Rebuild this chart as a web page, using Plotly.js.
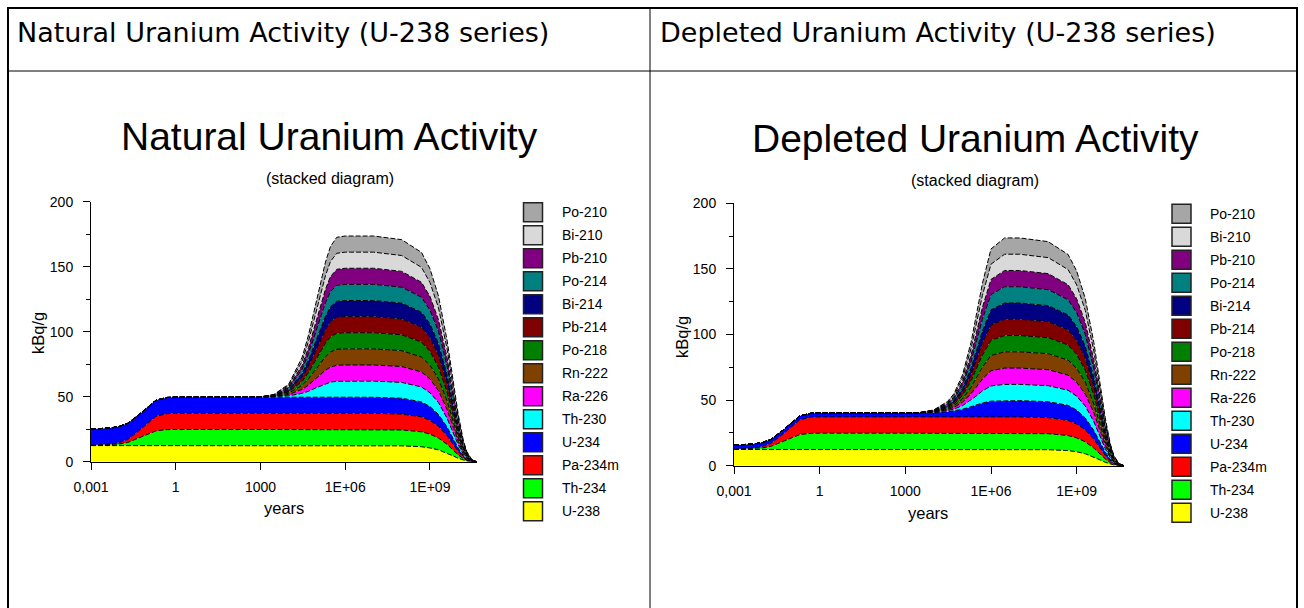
<!DOCTYPE html>
<html><head><meta charset="utf-8">
<script src="https://cdn.plot.ly/plotly-3.0.1.min.js"></script>
<style>html,body{margin:0;padding:0;background:#fff;overflow:hidden}#chart{width:1304px;height:608px}</style>
</head><body><div id="chart"></div>
<script>
// ---------------- data ----------------
const years = [0.001, 0.005, 0.01, 0.02, 0.05, 0.1, 0.2, 0.5, 1, 1000, 3000, 1e4, 3e4, 5e4, 1e5, 2e5, 3e5, 5e5, 1e6, 3e6, 1e7, 1e8, 5e8, 1e9, 2e9, 4e9, 7e9, 1e10, 1.5e10, 2e10, 3e10, 4.47e10];

const xTickVals = [0.001, 1, 1000, 1e6, 1e9];
const xTickText = ["0,001", "1", "1000", "1E+06", "1E+09"];
const yTickVals = [0, 50, 100, 150, 200];
const yMinorVals = [25, 75, 125, 175];

// shared by both charts (kBq/g)
const u238   = [12.4,12.4,12.4,12.4,12.4,12.4,12.4,12.4,12.4,12.4, 12.4,12.4,12.4,12.4,12.4,12.4,12.4,12.4,12.4,12.4, 12.4, 12.2,11.5,10.6,9.1,6.7,4.2,2.6,1.2,0.56,0.12,0.01];
const th234  = [0.13,0.63,1.2,2.4,5.8,8.6,11.3,12.3,12.4,12.4, 12.4,12.4,12.4,12.4,12.4,12.4,12.4,12.4,12.4,12.4, 12.4, 12.2,11.5,10.6,9.1,6.7,4.2,2.6,1.2,0.56,0.12,0.01];
const pa234m = [0.1,0.55,1.1,2.3,5.6,8.5,11.2,12.3,12.4,12.4, 12.4,12.4,12.4,12.4,12.4,12.4,12.4,12.4,12.4,12.4, 12.4, 12.2,11.5,10.6,9.1,6.7,4.2,2.6,1.2,0.56,0.12,0.01];

// natural uranium
const natU234  = [12.4,12.4,12.4,12.4,12.4,12.4,12.4,12.4,12.4,12.4, 12.4,12.4,12.4,12.4,12.4,12.4,12.4,12.4,12.4,12.4, 12.4, 12.2,11.5,10.6,9.1,6.7,4.2,2.6,1.2,0.56,0.12,0.01];
const natTh230 = [0,0,0,0,0,0,0,0,0,0.11, 0.34,1.1,3.0,4.6,7.5,10.4,11.6,12.3,12.4,12.4, 12.4, 12.2,11.5,10.6,9.1,6.7,4.2,2.6,1.2,0.56,0.12,0.01];
const natRa226 = [0,0,0,0,0,0,0,0,0,0.03, 0.2,1.0,3.1,4.8,7.6,10.4,11.6,12.3,12.4,12.4, 12.4, 12.2,11.5,10.6,9.1,6.7,4.2,2.6,1.2,0.56,0.12,0.01];
const natRn222 = [0,0,0,0,0,0,0,0,0,0.03, 0.2,1.0,3.1,4.8,7.6,10.4,11.6,12.3,12.4,12.4, 12.4, 12.2,11.5,10.6,9.1,6.7,4.2,2.6,1.2,0.56,0.12,0.01];
const natPo218 = [0,0,0,0,0,0,0,0,0,0.03, 0.2,1.0,3.1,4.8,7.6,10.4,11.6,12.3,12.4,12.4, 12.4, 12.2,11.5,10.6,9.1,6.7,4.2,2.6,1.2,0.56,0.12,0.01];
const natPb214 = [0,0,0,0,0,0,0,0,0,0.03, 0.2,1.0,3.1,4.8,7.6,10.4,11.6,12.3,12.4,12.4, 12.4, 12.2,11.5,10.6,9.1,6.7,4.2,2.6,1.2,0.56,0.12,0.01];
const natBi214 = [0,0,0,0,0,0,0,0,0,0.03, 0.2,1.0,3.1,4.8,7.6,10.4,11.6,12.3,12.4,12.4, 12.4, 12.2,11.5,10.6,9.1,6.7,4.2,2.6,1.2,0.56,0.12,0.01];
const natPo214 = [0,0,0,0,0,0,0,0,0,0.03, 0.2,1.0,3.1,4.8,7.6,10.4,11.6,12.3,12.4,12.4, 12.4, 12.2,11.5,10.6,9.1,6.7,4.2,2.6,1.2,0.56,0.12,0.01];
const natPb210 = [0,0,0,0,0,0,0,0,0,0.02, 0.19,0.98,3.1,4.8,7.6,10.4,11.6,12.3,12.4,12.4, 12.4, 12.2,11.5,10.6,9.1,6.7,4.2,2.6,1.2,0.56,0.12,0.01];
const natBi210 = [0,0,0,0,0,0,0,0,0,0.02, 0.19,0.98,3.1,4.8,7.6,10.4,11.6,12.3,12.4,12.4, 12.4, 12.2,11.5,10.6,9.1,6.7,4.2,2.6,1.2,0.56,0.12,0.01];
const natPo210 = [0,0,0,0,0,0,0,0,0,0.02, 0.19,0.98,3.1,4.8,7.6,10.4,11.6,12.3,12.4,12.4, 12.4, 12.2,11.5,10.6,9.1,6.7,4.2,2.6,1.2,0.56,0.12,0.01];

// depleted uranium
const duU234  = [3.0,3.0,3.0,3.0,3.0,3.0,3.0,3.0,3.0,3.0, 3.1,3.3,3.9,4.5,5.8,7.8,9.0,10.6,12.0,12.4, 12.4, 12.2,11.5,10.6,9.1,6.7,4.2,2.6,1.2,0.56,0.12,0.01];
const duTh230 = [0,0,0,0,0,0,0,0,0,0.01, 0.03,0.28,0.85,1.4,2.7,5.0,6.8,9.2,11.6,12.4, 12.4, 12.2,11.5,10.6,9.1,6.7,4.2,2.6,1.2,0.56,0.12,0.01];
const duRa226 = [0,0,0,0,0,0,0,0,0,0, 0.01,0.2,0.78,1.3,2.6,4.9,6.7,9.1,11.6,12.4, 12.4, 12.2,11.5,10.6,9.1,6.7,4.2,2.6,1.2,0.56,0.12,0.01];
const duRn222 = [0,0,0,0,0,0,0,0,0,0, 0.01,0.2,0.78,1.3,2.6,4.9,6.7,9.1,11.6,12.4, 12.4, 12.2,11.5,10.6,9.1,6.7,4.2,2.6,1.2,0.56,0.12,0.01];
const duPo218 = [0,0,0,0,0,0,0,0,0,0, 0.01,0.2,0.78,1.3,2.6,4.9,6.7,9.1,11.6,12.4, 12.4, 12.2,11.5,10.6,9.1,6.7,4.2,2.6,1.2,0.56,0.12,0.01];
const duPb214 = [0,0,0,0,0,0,0,0,0,0, 0.01,0.2,0.78,1.3,2.6,4.9,6.7,9.1,11.6,12.4, 12.4, 12.2,11.5,10.6,9.1,6.7,4.2,2.6,1.2,0.56,0.12,0.01];
const duBi214 = [0,0,0,0,0,0,0,0,0,0, 0.01,0.2,0.78,1.3,2.6,4.9,6.7,9.1,11.6,12.4, 12.4, 12.2,11.5,10.6,9.1,6.7,4.2,2.6,1.2,0.56,0.12,0.01];
const duPo214 = [0,0,0,0,0,0,0,0,0,0, 0.01,0.2,0.78,1.3,2.6,4.9,6.7,9.1,11.6,12.4, 12.4, 12.2,11.5,10.6,9.1,6.7,4.2,2.6,1.2,0.56,0.12,0.01];
const duPb210 = [0,0,0,0,0,0,0,0,0,0, 0.01,0.19,0.77,1.3,2.6,4.9,6.7,9.1,11.6,12.4, 12.4, 12.2,11.5,10.6,9.1,6.7,4.2,2.6,1.2,0.56,0.12,0.01];
const duBi210 = [0,0,0,0,0,0,0,0,0,0, 0.01,0.19,0.77,1.3,2.6,4.9,6.7,9.1,11.6,12.4, 12.4, 12.2,11.5,10.6,9.1,6.7,4.2,2.6,1.2,0.56,0.12,0.01];
const duPo210 = [0,0,0,0,0,0,0,0,0,0, 0.01,0.19,0.77,1.3,2.6,4.9,6.7,9.1,11.6,12.4, 12.4, 12.2,11.5,10.6,9.1,6.7,4.2,2.6,1.2,0.56,0.12,0.01];

// stack order bottom -> top
const nuclides = ["U-238","Th-234","Pa-234m","U-234","Th-230","Ra-226","Rn-222","Po-218","Pb-214","Bi-214","Po-214","Pb-210","Bi-210","Po-210"];
const colors   = ["#ffff00","#00ff00","#ff0000","#0000ff","#00ffff","#ff00ff","#804000","#008000","#800000","#000080","#008080","#800080","#d9d9d9","#a6a6a6"];
const natSeries = [u238, th234, pa234m, natU234, natTh230, natRa226, natRn222, natPo218, natPb214, natBi214, natPo214, natPb210, natBi210, natPo210];
const duSeries  = [u238, th234, pa234m, duU234, duTh230, duRa226, duRn222, duPo218, duPb214, duBi214, duPo214, duPb210, duBi210, duPo210];

const headerLeft  = "Natural Uranium Activity (U-238 series)";
const headerRight = "Depleted Uranium Activity (U-238 series)";
const titleLeft   = "Natural Uranium Activity";
const titleRight  = "Depleted Uranium Activity";
const subTitle    = "(stacked diagram)";
const yTitle = "kBq/g";
const xTitle = "years";

// ---------------- layout helpers ----------------
const W = 1304, H = 608;
const PX = x => x / W;
const PY = y => 1 - y / H;
const TF = "Liberation Sans, Arial, sans-serif";

const traces = [];
function addStack(series, xa, ya, group) {
  series.forEach((vals, i) => {
    traces.push({
      type: "scatter", mode: "lines", x: years, y: vals,
      xaxis: xa, yaxis: ya, stackgroup: group, name: nuclides[i],
      fillcolor: colors[i], line: {color: "#000", width: 1, dash: "5px,2px"},
      showlegend: false, hoverinfo: "skip"
    });
  });
}
addStack(natSeries, "x", "y", "nat");
addStack(duSeries, "x2", "y2", "du");

function xAxis(d0, d1, anchor) {
  return {type: "log", domain: [PX(d0), PX(d1)], range: [-3, 10.65], anchor: anchor,
    showline: true, linecolor: "#000", linewidth: 1, ticks: "outside", ticklen: 7, tickcolor: "#000",
    tickvals: xTickVals, ticktext: xTickText, showgrid: false, zeroline: false,
    tickfont: {family: TF, size: 14, color: "#000"}, ticklabelstandoff: 5, fixedrange: true};
}
function yAxis(p0, p200, anchor) {
  return {domain: [PY(p0), PY(p200)], range: [0, 200], anchor: anchor,
    showline: true, linecolor: "#000", linewidth: 1, ticks: "outside", ticklen: 7, tickcolor: "#000",
    tickvals: yTickVals, showgrid: false, zeroline: false,
    minor: {tickvals: yMinorVals, ticks: "outside", ticklen: 4, tickcolor: "#000", showgrid: false},
    tickfont: {family: TF, size: 14, color: "#000"}, ticklabelstandoff: 7, fixedrange: true};
}

const annotations = [];
const shapes = [];
function txt(t, x, y, size, fam, xanchor, angle) {
  annotations.push({text: t, x: PX(x), y: PY(y), xref: "paper", yref: "paper", showarrow: false,
    xanchor: xanchor || "center", yanchor: "middle", textangle: angle || 0,
    font: {family: fam || TF, size: size, color: "#000"}});
}
function line(x0, y0, x1, y1, w) {
  shapes.push({type: "line", xref: "paper", yref: "paper", x0: PX(x0), y0: PY(y0), x1: PX(x1), y1: PY(y1),
    line: {color: "#000", width: w}, layer: "above"});
}

// table borders
line(7, 8, 1298, 8, 2);
line(8, 7, 8, 608, 2);
line(1297, 7, 1297, 608, 2);
line(650, 8, 650, 608, 1);
line(8, 71, 1297, 71, 1);

// headers
txt(headerLeft, 15, 33, 27, "DejaVu Sans", "left");
txt(headerRight, 658, 33, 27, "DejaVu Sans", "left");

// chart titles
txt(titleLeft, 329, 136, 39);
txt(subTitle, 330, 178, 16);
txt(titleRight, 975, 138, 39);
txt(subTitle, 975, 180, 16);

// axis titles
txt(yTitle, 38, 333, 16.5, TF, "center", -90);
txt(xTitle, 284, 508, 16.5);
txt(yTitle, 682, 337, 16.5, TF, "center", -90);
txt(xTitle, 928, 513, 16.5);

// custom legends (top -> bottom)
function legend(boxX, textX, y0) {
  for (let k = 0; k < nuclides.length; k++) {
    const i = nuclides.length - 1 - k;
    const cy = y0 + 23 * k;
    shapes.push({type: "rect", xref: "paper", yref: "paper", x0: PX(boxX), x1: PX(boxX + 19),
      y0: PY(cy - 9.5), y1: PY(cy + 9.5), fillcolor: colors[i], line: {color: "#222", width: 1.5}, layer: "above"});
    txt(nuclides[i], textX, cy, 14, TF, "left");
  }
}
legend(523.5, 560, 212.2);
legend(1172, 1208, 213.7);

const layout = {
  width: W, height: H, margin: {l: 0, r: 0, t: 0, b: 0},
  paper_bgcolor: "#fff", plot_bgcolor: "rgba(0,0,0,0)", showlegend: false,
  xaxis: xAxis(91, 476.6, "y"), yaxis: yAxis(461.7, 201.7, "x"),
  xaxis2: xAxis(734, 1123.8, "y2"), yaxis2: yAxis(465.7, 203.3, "x2"),
  annotations: annotations, shapes: shapes
};
Plotly.newPlot("chart", traces, layout, {staticPlot: true, displayModeBar: false});
</script></body></html>
